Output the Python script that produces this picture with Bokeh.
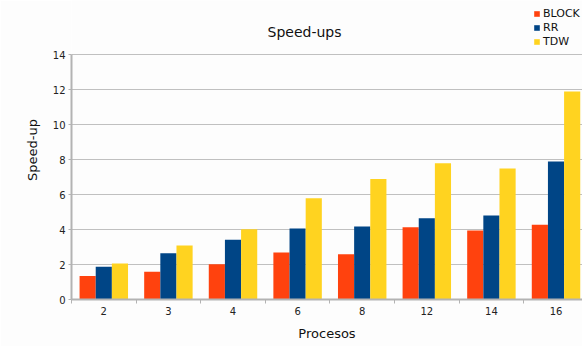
from bokeh.plotting import figure
from bokeh.models import (ColumnDataSource, Range1d, FixedTicker, Legend, LegendItem, Label)
from bokeh.embed import file_html
from bokeh.resources import INLINE

# Speed-up per number of processes for each distribution strategy
procesos = ["2", "3", "4", "6", "8", "12", "14", "16"]
block = [1.35, 1.58, 2.02, 2.69, 2.59, 4.13, 3.94, 4.27]
rr = [1.87, 2.65, 3.41, 4.06, 4.17, 4.65, 4.80, 7.89]
tdw = [2.06, 3.09, 4.02, 5.79, 6.88, 7.79, 7.49, 11.89]
y_ticks = [0, 2, 4, 6, 8, 10, 12, 14]

series = [("BLOCK", block, "#ff420e"), ("RR", rr, "#004586"), ("TDW", tdw, "#ffd320")]

centers = [i + 0.5 for i in range(len(procesos))]
bar_w = 0.25

# the plotting frame reaches the top of the canvas so the title and legend
# can sit inside it, above the 0..14 value band
p = figure(width=582, height=346, output_backend="svg", toolbar_location=None,
           x_range=Range1d(0, 7.91), y_range=Range1d(0, 299 / 17.5),
           min_border_left=71, min_border_right=0, min_border_top=0, min_border_bottom=47)
p.title = None

p.background_fill_color = "#fdfdfd"
p.border_fill_color = "#fdfdfd"
p.outline_line_color = None

items = []
for k, (name, vals, color) in enumerate(series):
    xs = [c + (k - 1) * bar_w for c in centers]
    src = ColumnDataSource(dict(x=xs, top=vals))
    r = p.vbar(x="x", top="top", width=bar_w, bottom=0, source=src,
               fill_color=color, line_color=None)
    items.append(LegendItem(label=name, renderers=[r]))

# x axis: labels at group centres, separator ticks between groups
xa = p.xaxis[0]
xa.ticker = FixedTicker(ticks=centers, minor_ticks=list(range(len(procesos) + 1)))
xa.major_label_overrides = {c: lab for c, lab in zip(centers, procesos)}
xa.major_tick_line_color = None
xa.major_tick_out = 0
xa.major_tick_in = 0
xa.minor_tick_line_color = "#b3b3b3"
xa.minor_tick_out = 4
xa.minor_tick_in = 0
xa.axis_line_color = "#b3b3b3"
xa.major_label_standoff = 3
xa.axis_label = "Procesos"
xa.axis_label_standoff = 8

ya = p.yaxis[0]
ya.ticker = FixedTicker(ticks=y_ticks)
ya.bounds = (0, 14)
ya.major_tick_line_color = "#b3b3b3"
ya.major_tick_out = 3
ya.major_tick_in = 0
ya.minor_tick_line_color = None
ya.axis_line_color = "#b3b3b3"
ya.major_label_standoff = 3
ya.axis_label = "Speed-up"
ya.axis_label_standoff = 10

for ax in (xa, ya):
    ax.major_label_text_font = "DejaVu Sans"
    ax.major_label_text_font_size = "10px"
    ax.major_label_text_color = "#222222"
    ax.axis_label_text_font = "DejaVu Sans"
    ax.axis_label_text_font_size = "13px"
    ax.axis_label_text_font_style = "normal"
    ax.axis_label_text_color = "#111111"
    ax.axis_line_width = 2

p.xgrid.grid_line_color = None
p.ygrid.ticker = FixedTicker(ticks=y_ticks)
p.ygrid.grid_line_color = "#c0c0c0"

# chart title
p.add_layout(Label(x=233, y=268, x_units="screen", y_units="screen", text="Speed-ups",
                   text_align="center", text_baseline="middle",
                   text_font="DejaVu Sans", text_font_size="14px", text_color="#111111"))

legend = Legend(items=items, location=(462, 251), orientation="vertical",
                padding=0, margin=0, spacing=1, border_line_color=None,
                background_fill_alpha=0, glyph_width=7, glyph_height=7,
                label_height=13, label_standoff=3,
                label_text_font="DejaVu Sans", label_text_font_size="11px",
                label_text_color="#111111")
p.add_layout(legend, "center")

open("out.html", "w").write(file_html(p, INLINE))
